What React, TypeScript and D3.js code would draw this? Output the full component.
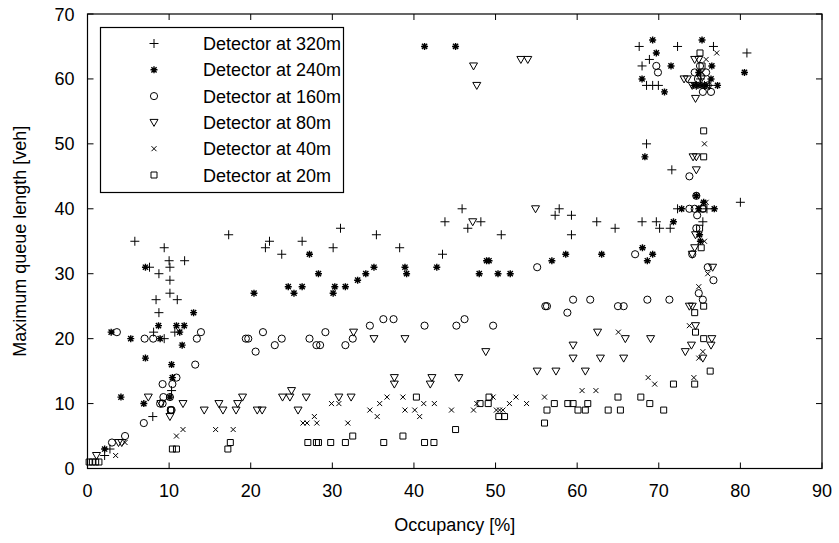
import React from "react";
import * as d3 from "d3";

// tick values
const xTicks = [0, 10, 20, 30, 40, 50, 60, 70, 80, 90];
const yTicks = [0, 10, 20, 30, 40, 50, 60, 70];

// [occupancy %, max queue length veh]
const det320: [number, number][] = [
  [2.1, 2], [2.75, 3], [8.0, 8], [10.3, 12],
  [5.8, 35], [9.4, 34], [10.0, 32], [11.9, 32], [10.1, 31], [7.6, 31], [8.75, 30],
  [10.1, 29], [10.1, 27], [8.4, 26], [11.0, 26], [8.75, 24], [8.1, 21], [10.7, 21], [9.4, 20],
  [17.3, 36], [21.8, 34], [22.3, 35], [23.8, 33], [26.3, 35], [31.0, 37], [30.1, 34],
  [35.4, 36], [38.25, 34], [43.5, 33], [43.8, 38], [45.9, 40], [46.6, 37], [48.2, 38],
  [50.7, 36], [57.8, 40], [57.3, 39], [59.3, 39], [59.3, 36], [62.4, 38], [64.65, 37],
  [67.95, 38], [69.7, 38], [70.1, 37], [71.4, 37],
  [71.6, 46], [68.5, 50], [72.3, 40], [75.9, 40], [75.4, 38], [80.0, 41],
  [67.6, 65], [67.95, 62], [68.85, 63], [68.5, 59], [69.25, 59], [69.95, 59], [72.3, 65],
  [76.7, 65], [80.8, 64], [74.6, 59], [75.6, 59], [76.2, 59], [75.1, 60],
];

const det240: [number, number][] = [
  [2.1, 3], [4.1, 11], [6.9, 10], [2.9, 21], [5.3, 20], [7.1, 31], [7.1, 17], [8.7, 22],
  [8.9, 20], [10.9, 22], [11.85, 22], [11.3, 21], [11.6, 19], [13.0, 24], [10.3, 16],
  [10.4, 14], [10.1, 11], [20.4, 27], [27.2, 33], [28.3, 30], [24.6, 28], [25.3, 27],
  [26.3, 28], [30.1, 27], [30.3, 28], [31.6, 28], [33.1, 29], [34.1, 30], [35.1, 31],
  [38.9, 31], [39.1, 30], [42.8, 31], [48.9, 32], [49.2, 32], [48.0, 30], [50.3, 30],
  [51.8, 30], [56.9, 32], [58.6, 33], [63.0, 33], [68.0, 34], [69.25, 33], [68.6, 32],
  [68.3, 48], [71.8, 38], [72.8, 40], [74.9, 40], [76.8, 40], [74.6, 42], [75.0, 36],
  [75.1, 35], [75.5, 41], [41.3, 65], [45.1, 65], [69.25, 66], [69.7, 64], [71.5, 62],
  [67.95, 60], [70.7, 58], [75.3, 66], [76.5, 62], [80.5, 61], [74.3, 59], [74.8, 59],
  [75.3, 59], [75.8, 59], [77.2, 59], [76.4, 60], [74.9, 61],
];

const det160: [number, number][] = [
  [3.0, 4], [4.6, 5], [6.9, 7], [3.6, 21], [7.0, 20], [8.05, 20], [8.9, 10], [9.2, 10],
  [9.3, 11], [9.2, 13], [10.4, 13], [10.9, 14], [10.2, 9], [10.3, 9], [10.1, 11],
  [13.2, 16], [13.4, 20], [13.9, 21], [19.4, 20], [19.7, 20], [21.5, 21], [20.6, 18],
  [22.95, 19], [23.8, 20], [27.2, 20], [28.05, 19], [28.5, 19], [29.15, 21], [31.6, 19],
  [32.5, 20], [34.6, 22], [36.25, 23], [37.5, 23], [41.3, 22], [45.2, 22], [46.2, 23],
  [49.7, 22], [55.1, 31], [56.1, 25], [56.3, 25], [58.8, 24], [59.5, 26], [61.6, 26],
  [65.0, 25], [65.7, 25], [68.6, 26], [71.3, 26], [67.1, 33], [73.75, 45], [74.1, 33],
  [74.6, 37], [74.7, 39], [73.75, 40], [74.4, 40], [75.4, 40], [74.6, 42], [76.0, 31],
  [76.7, 29], [74.9, 27], [75.4, 26], [69.7, 62], [69.9, 61], [75.05, 62], [74.4, 61],
  [75.8, 61], [75.4, 58], [76.4, 58], [74.8, 60], [76.0, 59],
];

const det80: [number, number][] = [
  [1.1, 2], [3.8, 4], [4.2, 4], [7.45, 11], [9.0, 10], [10.1, 8], [11.7, 10], [14.3, 9],
  [16.1, 10], [16.6, 9], [18.2, 9], [18.4, 10], [19.0, 11], [20.8, 9], [21.4, 9],
  [23.9, 11], [25.0, 12], [24.8, 11], [26.8, 11], [25.8, 9], [30.8, 11], [32.3, 11],
  [32.6, 21], [35.1, 20], [38.9, 20], [37.6, 14], [37.6, 13], [42.2, 14], [42.0, 13],
  [45.5, 14], [48.8, 18], [59.5, 19], [59.5, 17], [62.5, 21], [65.9, 20], [62.85, 17],
  [65.7, 17], [69.0, 20], [55.1, 15], [57.4, 15], [61.0, 15], [47.2, 38], [54.9, 40],
  [47.3, 62], [47.7, 59], [53.1, 63], [53.95, 63], [73.75, 25], [74.1, 25], [74.5, 22],
  [76.5, 20], [76.4, 19], [74.0, 19], [73.25, 18], [75.4, 17], [74.4, 34], [74.1, 33],
  [74.5, 36], [74.6, 46], [74.2, 48], [74.6, 48], [74.4, 63], [74.9, 63], [73.1, 60],
  [73.5, 60], [74.5, 57], [74.1, 59], [75.2, 60], [76.6, 31],
];

const det40: [number, number][] = [
  [3.45, 2], [4.6, 4], [10.9, 5], [11.7, 6], [15.7, 6], [17.85, 6], [26.4, 7], [26.9, 7],
  [28.1, 7], [27.8, 8], [29.9, 10], [30.8, 10], [31.9, 7], [34.6, 9], [35.5, 8], [35.8, 10],
  [36.7, 11], [38.65, 11], [38.9, 9], [40.1, 9], [40.7, 8], [41.2, 10], [42.5, 10],
  [44.6, 9], [47.3, 9], [47.7, 10], [49.7, 11], [50.1, 9], [50.5, 9], [50.9, 9], [51.7, 10],
  [52.5, 11], [53.8, 10], [56.0, 11], [60.6, 12], [62.3, 12], [65.05, 21], [68.7, 14],
  [69.5, 13], [73.75, 22], [74.3, 14], [75.4, 18], [74.9, 17], [76.0, 30], [74.9, 28],
  [75.6, 35], [75.8, 41], [75.6, 50], [75.8, 63], [77.1, 64], [75.3, 61],
];

const det20: [number, number][] = [
  [0.2, 1], [0.6, 1], [1.0, 1], [1.4, 1], [10.4, 3], [10.9, 3], [17.2, 3], [17.5, 4],
  [10.2, 9], [27.0, 4], [28.05, 4], [28.3, 4], [29.8, 4], [31.6, 4], [32.5, 5], [36.3, 4],
  [38.65, 5], [40.3, 11], [41.3, 4], [42.45, 4], [45.1, 6], [48.1, 10], [49.1, 10],
  [49.2, 11], [50.4, 8], [51.1, 8], [56.3, 9], [57.2, 10], [56.0, 7], [58.85, 10],
  [59.5, 10], [60.1, 9], [61.0, 9], [61.3, 10], [63.8, 9], [65.3, 9], [65.0, 11],
  [67.8, 11], [68.9, 10], [70.6, 9], [71.8, 13], [74.4, 13], [76.3, 15], [75.5, 20],
  [74.5, 21], [74.4, 24], [75.5, 25], [75.2, 34], [75.0, 37], [75.5, 52], [75.5, 48],
  [75.05, 64], [75.4, 40], [75.3, 62],
];

const seriesNames = ["Detector at 320m", "Detector at 240m", "Detector at 160m", "Detector at 80m", "Detector at 40m", "Detector at 20m"];
const seriesMarkers = ["plus", "star", "circle", "triangle", "cross", "square"];
const seriesData = [det320, det240, det160, det80, det40, det20];

const W = 839, H = 543;
const left = 87.5, right = 822, top = 14, bottom = 468.5;
const font = "'Liberation Sans', Arial, Helvetica, sans-serif";

function markerPath(kind: string, x: number, y: number): string {
  switch (kind) {
    case "plus":
      return `M${x - 4.5},${y}H${x + 4.5}M${x},${y - 4.5}V${y + 4.5}`;
    case "star":
      return `M${x - 3.5},${y}H${x + 3.5}M${x},${y - 3.5}V${y + 3.5}` +
        `M${x - 2.6},${y - 2.6}L${x + 2.6},${y + 2.6}M${x - 2.6},${y + 2.6}L${x + 2.6},${y - 2.6}`;
    case "triangle":
      return `M${x - 4},${y - 3}L${x + 4},${y - 3}L${x},${y + 4}Z`;
    case "cross":
      return `M${x - 2.5},${y - 2.5}L${x + 2.5},${y + 2.5}M${x - 2.5},${y + 2.5}L${x + 2.5},${y - 2.5}`;
    case "square":
      return `M${x - 3},${y - 3}H${x + 3}V${y + 3}H${x - 3}Z`;
    default:
      return "";
  }
}

const Marker = ({ kind, x, y }: { kind: string; x: number; y: number }) =>
  kind === "circle" ? (
    <circle cx={x} cy={y} r={3.6} fill="none" stroke="#000" strokeWidth={1} />
  ) : (
    <path d={markerPath(kind, x, y)} fill="none" stroke="#000" strokeWidth={kind === "star" ? 1.4 : 1} />
  );

export default function App() {
  const xScale = d3.scaleLinear().domain([0, 90]).range([left, right]);
  const yScale = d3.scaleLinear().domain([0, 70]).range([bottom, top]);

  return (
    <svg width={W} height={H} style={{ position: "absolute", left: 0, top: 0, background: "#fff" }}
      fontFamily={font}>
      <rect x={0} y={0} width={W} height={H} fill="#fff" />

      {/* points */}
      {seriesData.map((data, si) => (
        <g key={si}>
          {data.map((d, i) => (
            <Marker key={i} kind={seriesMarkers[si]} x={xScale(d[0])} y={yScale(d[1])} />
          ))}
        </g>
      ))}

      {/* axes box and ticks */}
      <rect x={left} y={top} width={right - left} height={bottom - top} fill="none" stroke="#000" strokeWidth={1.2} />
      {xTicks.map((t) => (
        <g key={"x" + t}>
          <line x1={xScale(t)} x2={xScale(t)} y1={bottom} y2={bottom - 6} stroke="#000" />
          <line x1={xScale(t)} x2={xScale(t)} y1={top} y2={top + 6} stroke="#000" />
          <text x={xScale(t)} y={bottom + 28} textAnchor="middle" fontSize={18}>{t}</text>
        </g>
      ))}
      {yTicks.map((t) => (
        <g key={"y" + t}>
          <line x1={left} x2={left + 6} y1={yScale(t)} y2={yScale(t)} stroke="#000" />
          <line x1={right} x2={right - 6} y1={yScale(t)} y2={yScale(t)} stroke="#000" />
          <text x={left - 13} y={yScale(t) + 6.5} textAnchor="end" fontSize={18}>{t}</text>
        </g>
      ))}

      <text x={(left + right) / 2} y={531} textAnchor="middle" fontSize={18}>Occupancy [%]</text>
      <text transform={`translate(26,${(top + bottom) / 2}) rotate(-90)`} textAnchor="middle" fontSize={18}>
        Maximum queue length [veh]
      </text>

      {/* legend */}
      <rect x={100.5} y={27.5} width={243} height={165} fill="#fff" stroke="#000" strokeWidth={1.2} />
      {seriesNames.map((name, i) => {
        const ly = 43.5 + i * 26.3;
        return (
          <g key={name}>
            <Marker kind={seriesMarkers[i]} x={154} y={ly} />
            <text x={203} y={ly + 6.5} fontSize={18}>{name}</text>
          </g>
        );
      })}
    </svg>
  );
}
